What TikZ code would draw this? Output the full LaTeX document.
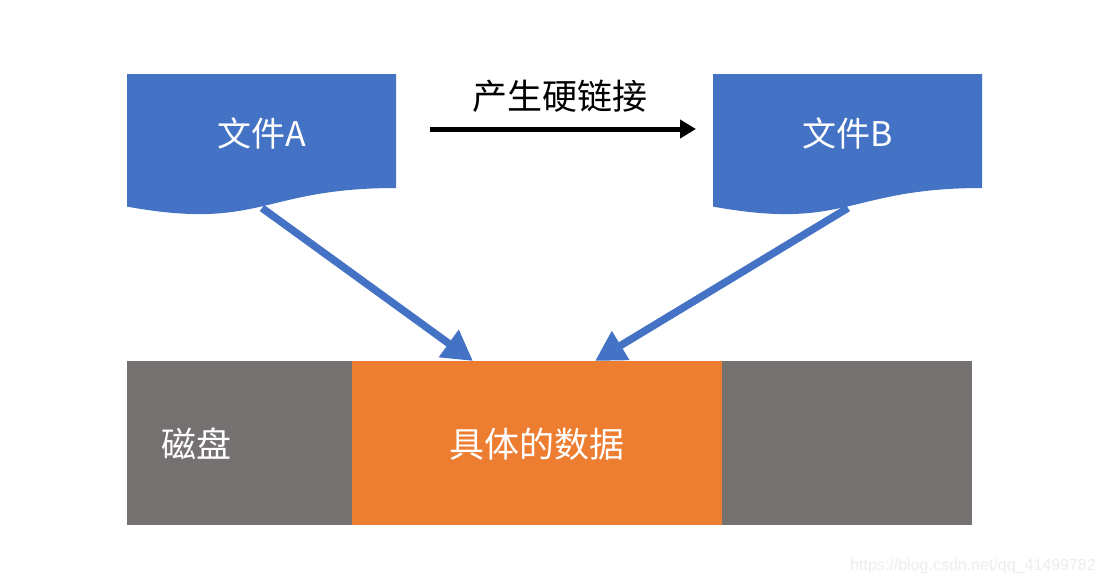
\documentclass[tikz,border=0pt]{standalone}
\usepackage{fontspec}
\setmainfont{Noto Sans CJK SC}
\newfontfamily\wmfont{Liberation Sans}
\usetikzlibrary{arrows.meta}
\definecolor{docblue}{HTML}{4472C4}
\definecolor{diskgray}{HTML}{767171}
\definecolor{dataorange}{HTML}{ED7D31}
\definecolor{wm}{HTML}{EDEDED}
\begin{document}
\begin{tikzpicture}[x=1pt,y=-1pt,
  doctext/.style={text=white,font=\fontsize{34}{38}\selectfont,inner sep=0pt},
  bartext/.style={text=white,font=\fontsize{35}{39}\selectfont,inner sep=0pt},
  linkarrow/.style={line width=7.5pt,docblue,-{Triangle[length=30pt,width=32pt]}},
  hardarrow/.style={line width=5pt,black,-{Triangle[length=16pt,width=18pt]}}]
\useasboundingbox (0,0) rectangle (1105,584);
\fill[white] (0,0) rectangle (1105,584);
% documents
\fill[docblue] (127,74) -- (396,74) -- (396,188)
  .. controls (261.5,188) and (261.5,231) .. (127,206.6) -- cycle;
\fill[docblue] (713,74) -- (982,74) -- (982,188)
  .. controls (847.5,188) and (847.5,231) .. (713,206.6) -- cycle;
\node[doctext] (A) at (262,133) {文件A};
\node[doctext] (B) at (848,133) {文件B};
% bar
\fill[diskgray] (127,361) rectangle (352,525);
\fill[dataorange] (352,361) rectangle (722,525);
\fill[diskgray] (722,361) rectangle (972,525);
\node[bartext] (disk) at (196,444) {磁盘};
\node[bartext] (data) at (537,444) {具体的数据};
% arrows
\coordinate (Aout) at (262,208);
\coordinate (Bout) at (848,208);
\coordinate (Ain) at (473,361);
\coordinate (Bin) at (595,361);
\draw[linkarrow] (Aout) -- (Ain);
\draw[linkarrow] (Bout) -- (Bin);
\coordinate (hs) at (430,129);
\coordinate (he) at (696,129);
\draw[hardarrow] (hs) -- (he);
\node[font=\fontsize{35}{39}\selectfont,inner sep=0pt] (lbl) at (560,96) {产生硬链接};
\node[font=\fontsize{16}{18}\selectfont\wmfont,text=wm,anchor=east,inner sep=0pt] (wmk) at (1096,566) {https://blog.csdn.net/qq\_41499782};
\end{tikzpicture}
\end{document}
